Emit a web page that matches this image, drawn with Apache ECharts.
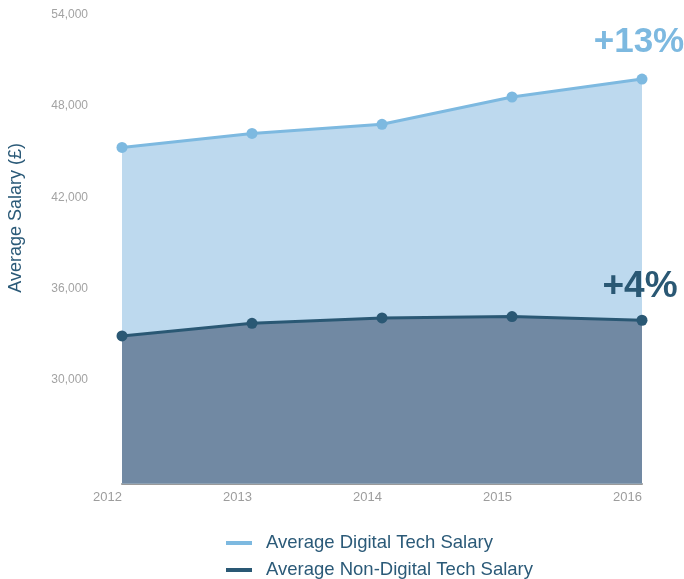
<!DOCTYPE html>
<html>
<head>
<meta charset="utf-8">
<script src="https://cdn.jsdelivr.net/npm/echarts@6/dist/echarts.min.js"></script>
<style>
html,body{margin:0;padding:0;background:#fff;}
#chart{width:684px;height:579px;}
</style>
</head>
<body>
<div id="chart"></div>
<script>
var years = ['2012', '2013', '2014', '2015', '2016'];
var digitalSalary = [45280, 46200, 46800, 48600, 49780];
var nonDigitalSalary = [32870, 33700, 34050, 34140, 33900];
var yTickValues = [30000, 36000, 42000, 48000, 54000];
var seriesNames = ['Average Digital Tech Salary', 'Average Non-Digital Tech Salary'];
var growthLabels = ['+13%', '+4%'];

var FONT = "'Liberation Sans', Arial, Helvetica, sans-serif";
var lightLine = '#7db9e0';
var lightArea = '#bdd9ee';
var darkLine = '#2a5874';
var darkArea = '#7189a3';

function lastLabel(values, text, color, offset, size) {
  return values.map(function (v, i) {
    if (i !== values.length - 1) return v;
    return {
      value: v,
      label: {
        show: true,
        position: 'inside',
        offset: offset,
        formatter: text,
        color: color,
        fontFamily: FONT,
        fontWeight: 'bold',
        fontSize: size,
        align: 'center',
        verticalAlign: 'middle'
      }
    };
  });
}

var chart = echarts.init(document.getElementById('chart'));
chart.setOption({
  animation: false,
  backgroundColor: '#fff',
  grid: { left: 122, right: 42, top: 15, bottom: 95.5, containLabel: false },
  xAxis: {
    type: 'category',
    data: years,
    boundaryGap: false,
    axisLine: { show: true, lineStyle: { color: '#9a9a9a', width: 2 } },
    axisTick: { show: false },
    axisLabel: { color: '#9d9d9d', fontSize: 13, fontFamily: FONT, align: 'right', margin: 7 },
    splitLine: { show: false }
  },
  yAxis: {
    type: 'value',
    min: 23150,
    max: 54000,
    axisLine: { show: false },
    axisTick: { show: false },
    splitLine: { show: false },
    axisLabel: {
      customValues: yTickValues,
      color: '#a3a3a3',
      fontSize: 12,
      fontFamily: FONT,
      margin: 34,
      formatter: function (v) { return v.toLocaleString('en-US'); }
    }
  },
  legend: {
    orient: 'vertical',
    left: 226,
    top: 533.5,
    height: 80,
    padding: 0,
    itemWidth: 26,
    itemHeight: 4,
    itemGap: 8,
    icon: 'rect',
    textStyle: { color: '#2b5a78', fontSize: 18.5, fontFamily: FONT, lineHeight: 18, padding: [0, 0, 0, 9] },
    data: seriesNames
  },
  graphic: [{
    type: 'text',
    left: 7,
    top: 143,
    rotation: Math.PI / 2,
    style: {
      text: 'Average Salary (£)',
      fill: '#2b5a78',
      font: '18px ' + FONT
    }
  }],
  series: [
    {
      name: seriesNames[0],
      type: 'line',
      data: lastLabel(digitalSalary, growthLabels[0], lightLine, [-3, -37], 35),
      symbol: 'circle',
      symbolSize: 11,
      showSymbol: true,
      lineStyle: { color: lightLine, width: 3 },
      itemStyle: { color: lightLine },
      areaStyle: { color: lightArea, opacity: 1 },
      z: 2
    },
    {
      name: seriesNames[1],
      type: 'line',
      data: lastLabel(nonDigitalSalary, growthLabels[1], darkLine, [-2, -33], 37),
      symbol: 'circle',
      symbolSize: 11,
      showSymbol: true,
      lineStyle: { color: darkLine, width: 3 },
      itemStyle: { color: darkLine },
      areaStyle: { color: darkArea, opacity: 1 },
      z: 3
    }
  ]
});
</script>
</body>
</html>
